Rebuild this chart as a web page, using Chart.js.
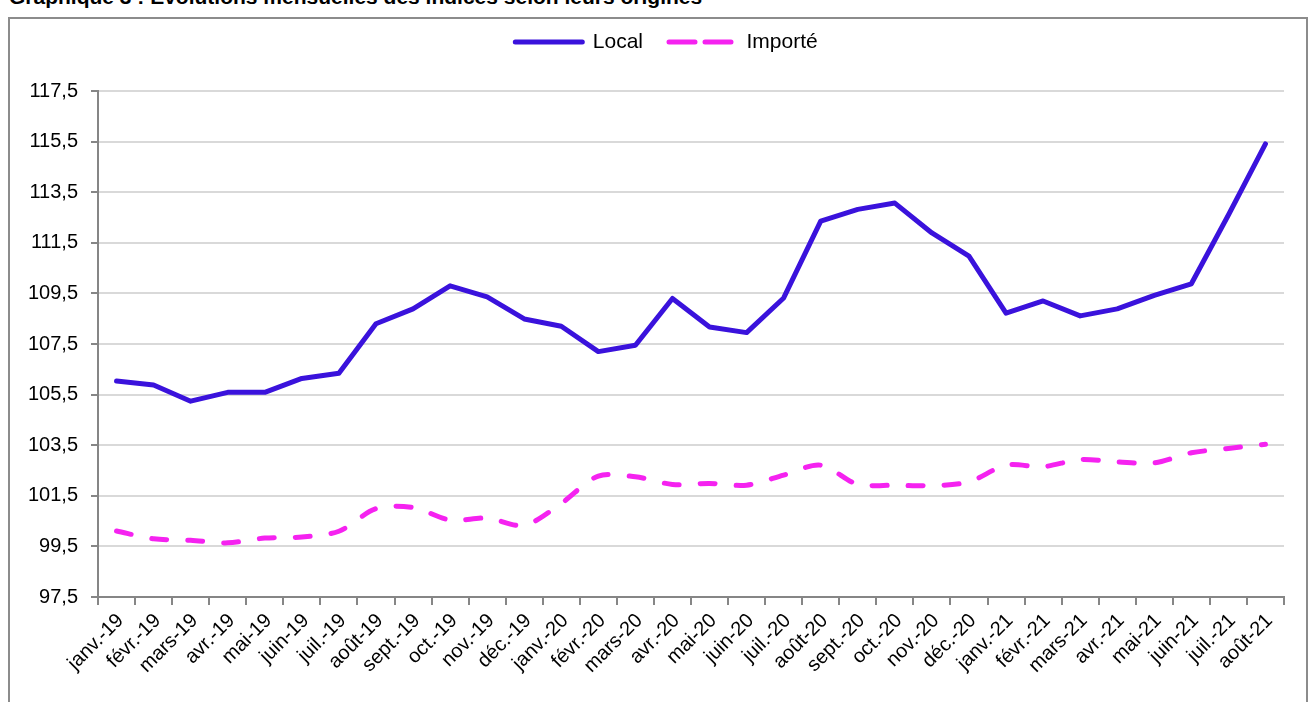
<!DOCTYPE html>
<html lang="fr">
<head>
<meta charset="utf-8">
<title>Graphique 3 : Evolutions mensuelles des indices selon leurs origines</title>
<script src="https://cdn.jsdelivr.net/npm/chart.js@4.4.0/dist/chart.umd.min.js"></script>
<style>
  html, body { margin: 0; padding: 0; background: #fff; overflow: hidden; }
  body { width: 1313px; height: 702px; position: relative; font-family: "Liberation Sans", Arial, sans-serif; }
  #titre { position: absolute; left: 9px; top: -14px; font-size: 21px; line-height: 21px; font-weight: bold; color: #000; white-space: nowrap; }
  #cadre { position: absolute; left: 8px; top: 17px; width: 1300px; height: 720px; border: 2px solid #8c8c8c; box-sizing: border-box; }
  #graphique { position: absolute; left: 0; top: 0; }
</style>
</head>
<body>
<div id="titre">Graphique 3 : Evolutions mensuelles des indices selon leurs origines</div>
<div id="cadre"></div>
<canvas id="graphique" width="1313" height="702"></canvas>
<script>
const mois = [
    'janv.-19', 'févr.-19', 'mars-19', 'avr.-19', 'mai-19', 'juin-19', 'juil.-19', 'août-19',
    'sept.-19', 'oct.-19', 'nov.-19', 'déc.-19',
    'janv.-20', 'févr.-20', 'mars-20', 'avr.-20', 'mai-20', 'juin-20', 'juil.-20', 'août-20',
    'sept.-20', 'oct.-20', 'nov.-20', 'déc.-20',
    'janv.-21', 'févr.-21', 'mars-21', 'avr.-21', 'mai-21', 'juin-21', 'juil.-21', 'août-21'
];

const local = [
    106.04, 105.88, 105.24, 105.59, 105.59, 106.14, 106.34, 108.30,
    108.89, 109.80, 109.36, 108.49,
    108.20, 107.20, 107.45, 109.30, 108.17, 107.95, 109.32, 112.36,
    112.82, 113.07, 111.89, 110.97,
    108.72, 109.20, 108.61, 108.89, 109.42, 109.88, 112.60, 115.41
];

const importe = [
    100.11, 99.80, 99.74, 99.64, 99.83, 99.87, 100.10, 100.99,
    101.04, 100.54, 100.62, 100.33,
    101.20, 102.28, 102.25, 101.95, 101.99, 101.92, 102.32, 102.71,
    101.95, 101.92, 101.90, 102.05,
    102.71, 102.65, 102.93, 102.84, 102.80, 103.20, 103.37, 103.54
];

const yTicks = [97.5, 99.5, 101.5, 103.5, 105.5, 107.5, 109.5, 111.5, 113.5, 115.5, 117.5];

Chart.defaults.font.family = '"Liberation Sans", Arial, sans-serif';
Chart.defaults.color = '#000';

// un peu d'air sous la légende, et légende centrée sur la zone de tracé
const espaceLegende = {
    id: 'espaceLegende',
    beforeInit(chart) {
        const fitOrig = chart.legend.fit;
        chart.legend.fit = function () {
            fitOrig.call(this);
            this.height += 28.5;
        };
    },
    afterLayout(chart) {
        chart.legend.left += 14.5;
        chart.legend.right += 14.5;
    }
};

let ctx = document.getElementById('graphique').getContext('2d');

let chart = new Chart(ctx, {
    type: 'line',
    data: {
        labels: mois,
        datasets: [{
            label: 'Local',
            data: local,
            borderColor: '#3a12dc',
            backgroundColor: 'rgba(0,0,0,0)',
            borderWidth: 5,
            borderCapStyle: 'round',
            borderJoinStyle: 'round',
            pointRadius: 0,
            tension: 0
        }, {
            label: 'Importé',
            data: importe,
            borderColor: '#f522f0',
            backgroundColor: 'rgba(0,0,0,0)',
            borderWidth: 5,
            borderDash: [15, 21],
            borderCapStyle: 'round',
            pointRadius: 0,
            tension: 0.3
        }]
    },
    options: {
        responsive: false,
        animation: false,
        layout: {
            padding: { left: 20, right: 29, top: 5.5, bottom: 0 }
        },
        plugins: {
            legend: {
                position: 'top',
                labels: {
                    boxWidth: 67,
                    boxHeight: 0,
                    padding: 26,
                    color: '#000',
                    font: { size: 21 }
                }
            },
            tooltip: { enabled: false }
        },
        scales: {
            x: {
                offset: true,
                grid: {
                    offset: true,
                    drawOnChartArea: false,
                    drawTicks: true,
                    tickLength: 8,
                    tickColor: '#868686',
                    lineWidth: 2
                },
                border: { color: '#868686', width: 2 },
                ticks: {
                    autoSkip: false,
                    minRotation: 45,
                    maxRotation: 45,
                    padding: 4,
                    labelOffset: 4,
                    color: '#000',
                    font: { size: 20 }
                },
                afterFit(scale) {
                    scale.height = 105;
                }
            },
            y: {
                min: 97.5,
                max: 117.5,
                grid: {
                    color: '#d9d9d9',
                    lineWidth: 2,
                    tickLength: 7,
                    tickColor: '#868686'
                },
                border: { color: '#868686', width: 2 },
                ticks: {
                    padding: 13,
                    color: '#000',
                    font: { size: 20 },
                    callback: v => v.toFixed(1).replace('.', ',')
                },
                afterBuildTicks(scale) {
                    scale.ticks = yTicks.map(v => ({ value: v }));
                },
                afterFit(scale) {
                    scale.width = 78;
                }
            }
        }
    },
    plugins: [espaceLegende]
});
</script>
</body>
</html>
